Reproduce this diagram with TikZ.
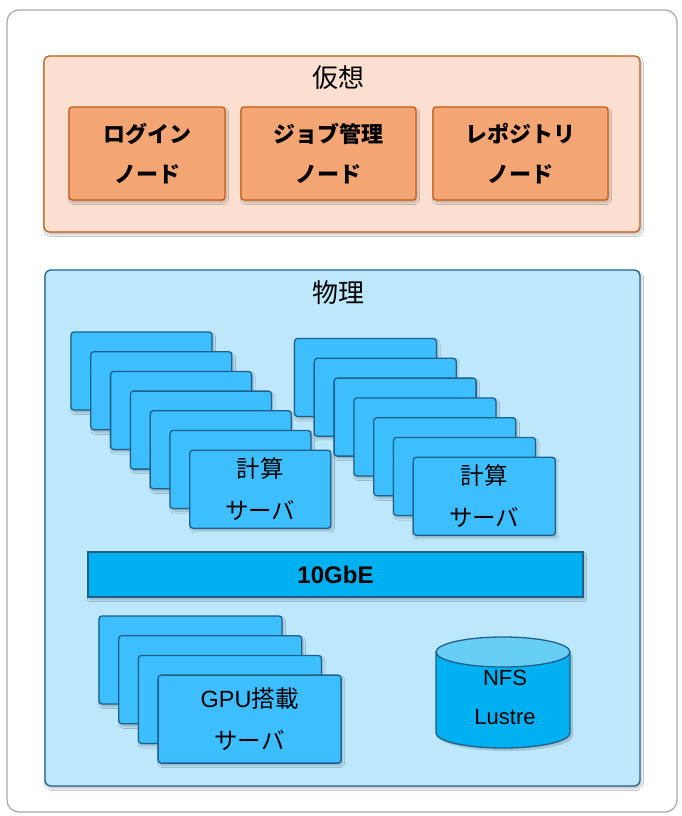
\documentclass[tikz,border=0pt]{standalone}
\usepackage{fontspec}
\setmainfont{Liberation Sans}
\newfontfamily\cjk{Noto Sans CJK JP}
\usetikzlibrary{shadows.blur}
\definecolor{frameg}{HTML}{A6A6A6}
\definecolor{virtbg}{HTML}{FBE0D1}
\definecolor{virtln}{HTML}{C55A11}
\definecolor{virtnd}{HTML}{F4A574}
\definecolor{physbg}{HTML}{BDE8FC}
\definecolor{physln}{HTML}{1F6391}
\definecolor{srvfill}{HTML}{3DBFFF}
\definecolor{srvln}{HTML}{1F5F8A}
\definecolor{netfill}{HTML}{00B0F0}
\definecolor{cyltop}{HTML}{66CDF5}
\tikzset{
  shd/.style={blur shadow={shadow blur steps=6, shadow xshift=1.5pt, shadow yshift=-2.5pt, shadow opacity=25}},
  vnode/.style={draw=virtln, line width=1.2pt, fill=virtnd, rounded corners=3pt, minimum width=156pt, minimum height=93pt, inner sep=0pt, align=center, font=\cjk\bfseries\fontsize{22}{40}\selectfont, shd},
  srv/.style={draw=srvln, line width=1.3pt, fill=srvfill, rounded corners=3pt, minimum width=141pt, minimum height=78pt, inner sep=0pt, align=center, font=\cjk\fontsize{23.5}{42}\selectfont, shd},
  gpu/.style={srv, minimum width=183pt, minimum height=88pt, font=\fontsize{23.5}{42}\selectfont},
  ttl/.style={font=\cjk\fontsize{26}{30}\selectfont, inner sep=0pt},
}
\begin{document}
\begin{tikzpicture}[x=1pt,y=-1pt]
\useasboundingbox (0,0) rectangle (682,816);
% outer frame
\node[draw=frameg, line width=1.2pt, fill=white, rounded corners=12pt, minimum width=670pt, minimum height=802pt, inner sep=0pt] (frame) at (342,411) {};
% virtual group
\node[draw=virtln, line width=1.2pt, fill=virtbg, rounded corners=5pt, minimum width=596pt, minimum height=176pt, inner sep=0pt, shd] (virt) at (342,144) {};
\node[ttl] (virtt) at (338,78) {仮想};
\node[vnode] (login) at (147,153.5) {ログイン\\ノード};
\node[vnode, minimum width=175pt] (job) at (328.5,153.5) {ジョブ管理\\ノード};
\node[vnode, minimum width=175pt] (repo) at (520.5,153.5) {レポジトリ\\ノード};
% physical group
\node[draw=physln, line width=1.3pt, fill=physbg, rounded corners=6pt, minimum width=595pt, minimum height=516pt, inner sep=0pt, shd] (phys) at (342.5,528) {};
\node[ttl] (physt) at (338,293) {物理};
% left compute stack
\foreach \i in {0,...,5}{
  \node[srv] (l\i) at ({141.5+19.8*\i},{371+19.7*\i}) {};
}
\node[srv] (l6) at ({141.5+19.8*6},{371+19.7*6}) {計算\\サーバ};
% right compute stack
\foreach \i in {0,...,5}{
  \node[srv, minimum width=142pt] (r\i) at ({365.5+19.8*\i},{377.5+19.8*\i}) {};
}
\node[srv, minimum width=142pt] (r6) at ({365.5+19.8*6},{377.5+19.8*6}) {計算\\サーバ};
% network bar
\node[draw=srvln, line width=1.3pt, fill=netfill, minimum width=495pt, minimum height=45pt, inner sep=0pt, font=\bfseries\fontsize{24}{28}\selectfont, shd] (net) at (335.5,574.5) {10GbE};
% GPU stack
\foreach \i in {0,...,2}{
  \node[gpu] (g\i) at ({190.5+19.7*\i},{660+19.7*\i}) {};
}
\node[gpu] (g3) at ({190.5+19.7*3},{660+19.7*3}) {GPU{\cjk 搭載}\\{\cjk サーバ}};
% storage cylinder
\begin{scope}
\fill[black, opacity=0.15] (439,655) -- (439,736) arc[start angle=180,end angle=360,x radius=67pt,y radius=15pt] -- (573,655) -- cycle;
\filldraw[draw=srvln, line width=1.3pt, fill=netfill] (436,652) -- (436,733) arc[start angle=180,end angle=360,x radius=67pt,y radius=15pt] -- (570,652) -- cycle;
\filldraw[draw=srvln, line width=1.3pt, fill=cyltop] (503,652) ellipse[x radius=67pt, y radius=15pt];
\end{scope}
\node[align=center, font=\fontsize{22}{39}\selectfont, inner sep=0pt] (nfs) at (505,697.5) {NFS\\Lustre};
\end{tikzpicture}
\end{document}
